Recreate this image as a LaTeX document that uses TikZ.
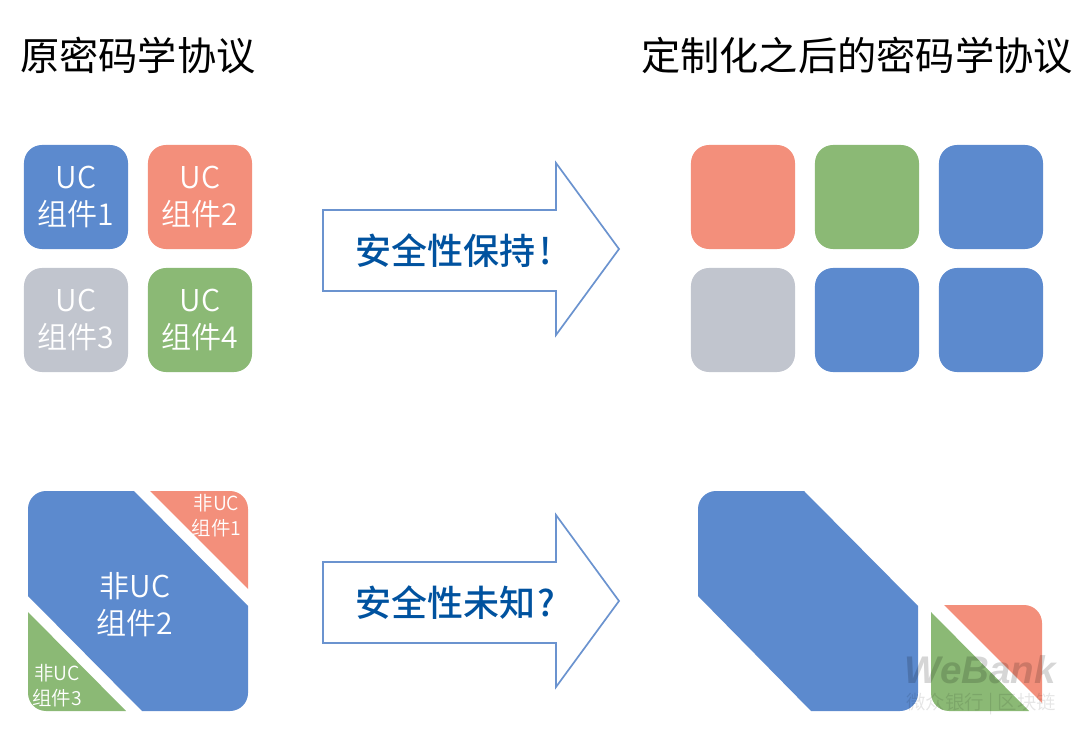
\documentclass[tikz,border=0pt]{standalone}
\usepackage{fontspec}
\setmainfont{Noto Sans CJK SC}
\newfontfamily\lightcjk{Noto Sans CJK SC DemiLight}
\newfontfamily\medcjk{Noto Sans CJK SC Medium}
\newfontfamily\markfont{Liberation Sans}
\usetikzlibrary{positioning}

\definecolor{ucblue}{HTML}{5C8ACE}
\definecolor{ucred}{HTML}{F38F7B}
\definecolor{ucgreen}{HTML}{8BB975}
\definecolor{ucgray}{HTML}{C1C5CE}
\definecolor{arrowline}{HTML}{6B93CF}
\definecolor{arrowtext}{HTML}{00529F}

\tikzset{
  tile/.style={rounded corners=0.45cm,minimum size=2.6cm,inner sep=0pt,align=center,
    text=white,font=\lightcjk\fontsize{21.4}{26}\selectfont},
  title/.style={anchor=west,inner sep=0pt,font=\fontsize{27.9}{32}\selectfont},
  biglabel/.style={inner sep=0pt,align=center,text=white,font=\lightcjk\fontsize{21.4}{26}\selectfont},
  smalllabel/.style={inner sep=0pt,align=center,text=white,font=\lightcjk\fontsize{13.8}{17.7}\selectfont},
  bigarrow/.style={draw=arrowline,line width=1.2pt,fill=white,line join=miter},
  arrowlabel/.style={anchor=west,inner sep=0pt,text=arrowtext,font=\medcjk\fontsize{25.6}{30}\selectfont}
}

\begin{document}
\begin{tikzpicture}[x=0.025cm,y=-0.025cm]
  \useasboundingbox (0,0) rectangle (1080,741);

  \node (T1) at (20,56) [title] {原密码学协议};
  \node (T2) at (641,56) [title] {定制化之后的密码学协议};

  \node (A1) at (76,197) [tile,fill=ucblue] {UC\\组件1};
  \node (A2) at (200,197) [tile,fill=ucred] {UC\\组件2};
  \node (A3) at (76,320) [tile,fill=ucgray] {UC\\组件3};
  \node (A4) at (200,320) [tile,fill=ucgreen] {UC\\组件4};

  \node (B1) at (743,197) [tile,fill=ucred] {};
  \node (B2) at (867,197) [tile,fill=ucgreen] {};
  \node (B3) at (991,197) [tile,fill=ucblue] {};
  \node (B4) at (743,320) [tile,fill=ucgray] {};
  \node (B5) at (867,320) [tile,fill=ucblue] {};
  \node (B6) at (991,320) [tile,fill=ucblue] {};

  % arrows
  \draw[bigarrow] (323,210) -- (556,210) -- (556,163) -- (619,249) -- (556,335) -- (556,291) -- (323,291) -- cycle;
  \draw[bigarrow] (323,562) -- (556,562) -- (556,515) -- (619,601) -- (556,687) -- (556,643) -- (323,643) -- cycle;
  \node (S1) at (355.5,251) [arrowlabel] {安全性保持\kern3pt!};
  \node (S2) at (355.5,603) [arrowlabel] {安全性未知\kern1.5pt?};

  % split square, left
  \fill[ucblue] (80,491) [sharp corners] -- (134,491) -- (248,606) -- (248,660) [rounded corners=0.45cm] -- (248,711) -- (200,711) [sharp corners] -- (142,711) -- (28,596) -- (28,540) [rounded corners=0.45cm] -- (28,491) -- cycle;
  \fill[ucred] (200,491) [rounded corners=0.45cm] -- (248,491) -- (248,540) [sharp corners] -- (248,589) -- (150,491) -- cycle;
  \fill[ucgreen] (28,660) [sharp corners] -- (28,612) -- (126,711) -- (80,711) [rounded corners=0.45cm] -- (28,711) -- cycle;
  \node (L2) at (135,604.5) [biglabel] {非UC\\组件2};
  \node (L1) at (216.5,515.5) [smalllabel] {非UC\\组件1};
  \node (L3) at (57,686) [smalllabel] {非UC\\组件3};

  % split square, right
  \fill[ucblue] (750,491) [sharp corners] -- (804,491) -- (918,606) -- (918,660) [rounded corners=0.45cm] -- (918,711) -- (870,711) [sharp corners] -- (811,711) -- (698,596) -- (698,540) [rounded corners=0.45cm] -- (698,491) -- cycle;
  \fill[ucred] (1000,605) [rounded corners=0.45cm] -- (1042,605) -- (1042,650) [sharp corners] -- (1042,703) -- (944,605) -- cycle;
  \fill[ucgreen] (931,660) [sharp corners] -- (931,612) -- (1029,711) -- (980,711) [rounded corners=0.45cm] -- (931,711) -- cycle;

  % watermark
  \node (W1) at (980,670) [inner sep=0pt,text=black,opacity=0.16,font=\markfont\bfseries\itshape\fontsize{27.4}{29}\selectfont] {WeBank};
  \node (W2) at (981,704.5) [inner sep=0pt,text=black,opacity=0.1,font=\lightcjk\fontsize{13.8}{14}\selectfont] {微众银行 | 区块链};
\end{tikzpicture}
\end{document}
